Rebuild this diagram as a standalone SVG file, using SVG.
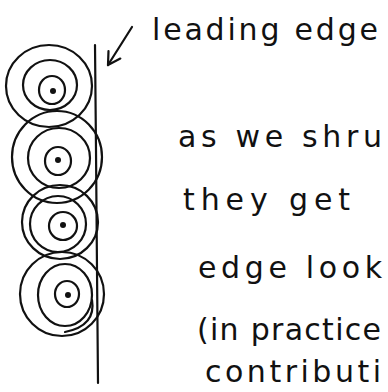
<svg xmlns="http://www.w3.org/2000/svg" width="388" height="392" viewBox="0 0 388 392">
<style>
.ink{fill:none;stroke:#111;stroke-width:2.2;stroke-linecap:round;stroke-linejoin:round}
.dot{fill:#111}
.hand{font-family:"DejaVu Sans","Liberation Sans",sans-serif;font-size:30px;fill:#111}
</style>
<defs>
<marker id="vhead" markerUnits="userSpaceOnUse" markerWidth="20" markerHeight="20" viewBox="-14 -10 16 20" refX="0" refY="0" orient="auto">
<path d="M-12,-7 L0,0 L-12,7" fill="none" stroke="#111" stroke-width="2.2" stroke-linecap="round" stroke-linejoin="round"/>
</marker>
</defs>
<rect width="388" height="392" fill="#fff"/>
<g id="leading-edge-line">
<path class="ink" d="M95,45 L96,150 L97,270 L98,383"/>
</g>
<g id="cell1">
<ellipse class="ink" cx="49" cy="86" rx="43" ry="41"/>
<ellipse class="ink" cx="50" cy="85" rx="27" ry="25"/>
<ellipse class="ink" cx="52" cy="90" rx="13" ry="14"/>
<circle class="dot" cx="53" cy="91" r="3"/>
</g>
<g id="cell2">
<ellipse class="ink" cx="57" cy="157" rx="45" ry="46"/>
<ellipse class="ink" cx="59" cy="158" rx="31" ry="30"/>
<ellipse class="ink" cx="58" cy="161" rx="13" ry="14"/>
<circle class="dot" cx="58" cy="160" r="3"/>
</g>
<g id="cell3">
<ellipse class="ink" cx="60" cy="222" rx="38" ry="37"/>
<ellipse class="ink" cx="58" cy="224" rx="28" ry="28"/>
<ellipse class="ink" cx="63" cy="226" rx="14" ry="14"/>
<circle class="dot" cx="63" cy="225" r="3"/>
</g>
<g id="cell4">
<ellipse class="ink" cx="62" cy="294" rx="42" ry="42"/>
<ellipse class="ink" cx="65" cy="295" rx="27" ry="31"/>
<ellipse class="ink" cx="67" cy="294" rx="12" ry="13"/>
<circle class="dot" cx="68" cy="295" r="3"/>
<path class="ink" d="M92,300 C95,318 85,328 65,332"/>
</g>
<g id="connectors">
<path class="ink" d="M132,27 L108,65" marker-end="url(#vhead)"/>
</g>
<g id="label">
<text class="hand" x="152" y="40" textLength="226" lengthAdjust="spacing">leading edge</text>
</g>
<g id="notes">
<text class="hand" x="178" y="147" textLength="204" lengthAdjust="spacing">as we shru</text>
<text class="hand" x="183" y="210" textLength="167" lengthAdjust="spacing">they get</text>
<text class="hand" x="198" y="278" textLength="184" lengthAdjust="spacing">edge look</text>
<text class="hand" x="197" y="340" textLength="184" lengthAdjust="spacing">(in practice</text>
<text class="hand" x="205" y="382" textLength="176" lengthAdjust="spacing">contributi</text>
</g>
</svg>
